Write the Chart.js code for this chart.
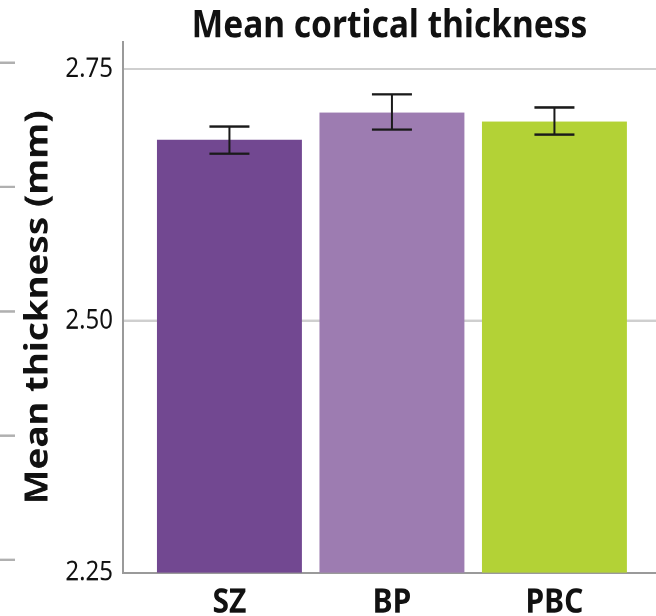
<!DOCTYPE html>
<html>
<head>
<meta charset="utf-8">
<script src="https://cdn.jsdelivr.net/npm/chart.js@4/dist/chart.umd.min.js"></script>
<style>
  html, body { margin: 0; padding: 0; background: #fff; width: 656px; height: 616px; }
  #page { width: 656px; height: 616px; overflow: hidden; }
  /* the reference figure is stretched vertically, so the chart is drawn
     at 656x536 and scaled up to 616px tall */
  #wrap { width: 656px; height: 536px; transform: scaleY(1.1493); transform-origin: 0 0; }
</style>
</head>
<body>
<div id="page"><div id="wrap"><canvas id="myChart"></canvas></div></div>
<script>
const groups = ['SZ', 'BP', 'PBC'];
const means = [2.680, 2.707, 2.698];
const errLow = [2.666, 2.690, 2.685];
const errHigh = [2.693, 2.725, 2.712];
const barColors = ['#724891', '#9d7cb1', '#b3d236'];
const yTicks = [2.25, 2.50, 2.75];
// tick marks of the neighbouring panel, cut off at the left edge
const ghostTicks = [0, 1, 2, 3, 4];

const errorBars = {
  id: 'errorBars',
  afterDatasetsDraw(chart) {
    const ctx = chart.ctx;
    const x = chart.scales.x;
    const y = chart.scales.y;
    ctx.save();
    ctx.strokeStyle = '#1a1a1a';
    ctx.lineWidth = 2;
    groups.forEach((g, i) => {
      const cx = x.getPixelForValue(i);
      const top = y.getPixelForValue(errHigh[i]);
      const bot = y.getPixelForValue(errLow[i]);
      ctx.beginPath();
      ctx.moveTo(cx, top); ctx.lineTo(cx, bot);
      ctx.moveTo(cx - 20, top); ctx.lineTo(cx + 20, top);
      ctx.moveTo(cx - 20, bot); ctx.lineTo(cx + 20, bot);
      ctx.stroke();
    });
    ctx.restore();
  }
};

const ctx = document.getElementById('myChart').getContext('2d');
const myChart = new Chart(ctx, {
  type: 'bar',
  data: {
    datasets: [{
      data: means.map((v, i) => ({ x: i, y: v })),
      backgroundColor: barColors,
      borderWidth: 0,
      barPercentage: 1,
      categoryPercentage: 0.892
    }]
  },
  options: {
    responsive: true,
    maintainAspectRatio: false,
    animation: false,
    devicePixelRatio: 2,
    layout: { padding: 0 },
    plugins: {
      legend: { display: false },
      tooltip: { enabled: false },
      title: {
        display: true,
        fullSize: false,
        text: 'Mean cortical thickness',
        color: '#111',
        font: { family: 'Noto Sans', size: 33.5, weight: 'bold', lineHeight: 1 },
        padding: { top: 6, bottom: -3 }
      }
    },
    scales: {
      x: {
        type: 'linear',
        offset: false,
        min: -0.655,
        max: 2.625,
        afterBuildTicks: s => { s.ticks = groups.map((g, i) => ({ value: i })); },
        afterFit: s => { s.height = 37.7; },
        grid: { display: false, drawTicks: false, offset: false },
        border: { display: true, color: '#9a9a9a', width: 2 },
        ticks: {
          padding: 8,
          color: '#111',
          font: { family: 'Noto Sans', size: 30, weight: 'bold' },
          callback: v => groups[v]
        }
      },
      y: {
        min: 2.25,
        max: 2.777,
        afterBuildTicks: s => { s.ticks = yTicks.map(v => ({ value: v })); },
        afterFit: s => { s.width = 108; },
        grid: { color: '#cfcfcf', lineWidth: 2, drawTicks: false },
        border: { display: true, color: '#9a9a9a', width: 2 },
        ticks: {
          padding: 10,
          color: '#111',
          font: { family: 'Noto Sans', size: 24 },
          callback: v => v.toFixed(2)
        },
        title: {
          display: true,
          text: 'Mean thickness (mm)',
          color: '#111',
          font: { family: 'Noto Sans', size: 32, weight: 'bold' },
          padding: { top: 4.3, bottom: 0 }
        }
      },
      y2: {
        position: 'left',
        weight: 1,
        min: -0.105,
        max: 4.167,
        afterBuildTicks: s => { s.ticks = ghostTicks.map(v => ({ value: v })); },
        afterFit: s => { s.width = 15; },
        grid: { drawOnChartArea: false, drawTicks: true, tickLength: 15, color: '#b0b0b0', lineWidth: 2 },
        border: { display: false },
        ticks: { display: false }
      }
    }
  },
  plugins: [errorBars]
});
</script>
</body>
</html>
